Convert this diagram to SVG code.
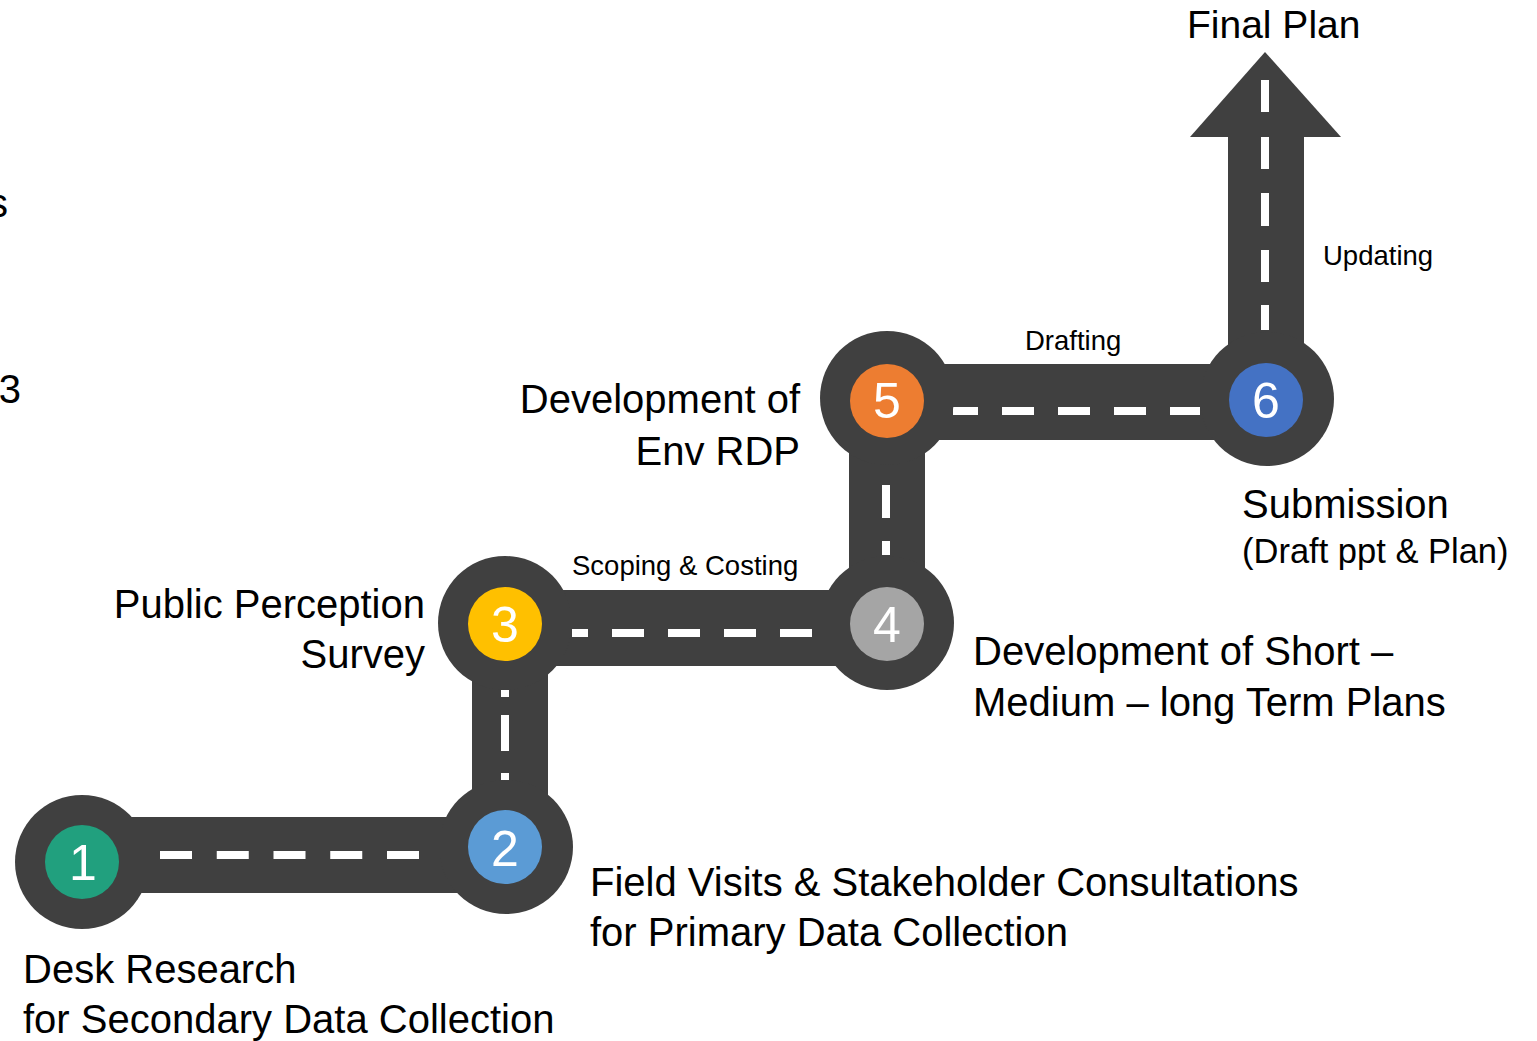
<svg xmlns="http://www.w3.org/2000/svg" width="1537" height="1041" viewBox="0 0 1537 1041">
<style>
.road{fill:#404040}
.dash{stroke:#ffffff;stroke-width:8;fill:none}
.ring{fill:#404040}
.num{font-family:"Liberation Sans",Arial,sans-serif;font-size:50px;fill:#ffffff;text-anchor:middle}
.lbl{font-family:"Liberation Sans",Arial,sans-serif;font-size:40px;fill:#000000}
.sm{font-family:"Liberation Sans",Arial,sans-serif;font-size:27.5px;fill:#000000}
.end{text-anchor:end}
</style>
<rect width="1537" height="1041" fill="#ffffff"/>
<text class="lbl end" x="8" y="217">s</text>
<text class="lbl end" x="21" y="403">3</text>
<g id="connectors">
  <rect class="road" x="82" y="817" width="424" height="76"/>
  <rect class="road" x="472" y="623" width="76" height="224"/>
  <rect class="road" x="505" y="590" width="382" height="76"/>
  <rect class="road" x="849" y="398" width="76" height="225"/>
  <rect class="road" x="887" y="364" width="380" height="76"/>
  <rect class="road" x="1228" y="136" width="76" height="263"/>
  <polygon class="road" points="1265,52 1341,137 1190,137"/>
  <line class="dash" x1="160" y1="855" x2="419" y2="855" stroke-dasharray="32 24.75"/>
  <line class="dash" x1="572" y1="633" x2="812" y2="633" stroke-dasharray="32 24" stroke-dashoffset="16"/>
  <line class="dash" x1="953" y1="411" x2="1200" y2="411" stroke-dasharray="32 24" stroke-dashoffset="7"/>
  <line class="dash" x1="505" y1="690" x2="505" y2="697"/>
  <line class="dash" x1="505" y1="715" x2="505" y2="751"/>
  <line class="dash" x1="505" y1="773" x2="505" y2="780"/>
  <line class="dash" x1="886" y1="485" x2="886" y2="518"/>
  <line class="dash" x1="886" y1="541" x2="886" y2="555"/>
  <line class="dash" x1="1265" y1="80" x2="1265" y2="112"/>
  <line class="dash" x1="1265" y1="137" x2="1265" y2="169"/>
  <line class="dash" x1="1265" y1="193" x2="1265" y2="226"/>
  <line class="dash" x1="1265" y1="250" x2="1265" y2="282"/>
  <line class="dash" x1="1265" y1="305" x2="1265" y2="330"/>
</g>
<g id="node1">
  <circle class="ring" cx="82" cy="862" r="67"/>
  <circle cx="82" cy="862" r="37" fill="#21A07E"/>
  <text class="num" x="83" y="880">1</text>
  <text class="lbl" x="23" y="983">Desk Research</text>
  <text class="lbl" x="23" y="1033">for Secondary Data Collection</text>
</g>
<g id="node2">
  <circle class="ring" cx="506" cy="847" r="67"/>
  <circle cx="505" cy="847" r="37" fill="#5B9BD5"/>
  <text class="num" x="505" y="866">2</text>
  <text class="lbl" x="590" y="896">Field Visits &amp; Stakeholder Consultations</text>
  <text class="lbl" x="590" y="946">for Primary Data Collection</text>
</g>
<g id="node3">
  <circle class="ring" cx="505" cy="623" r="67"/>
  <circle cx="505" cy="624" r="37" fill="#FFC000"/>
  <text class="num" x="505" y="642">3</text>
  <text class="lbl end" x="425" y="618">Public Perception</text>
  <text class="lbl end" x="425" y="668">Survey</text>
  <text class="sm" x="572" y="575">Scoping &amp; Costing</text>
</g>
<g id="node4">
  <circle class="ring" cx="887" cy="623" r="67"/>
  <circle cx="887" cy="624" r="37" fill="#A5A5A5"/>
  <text class="num" x="887" y="642">4</text>
  <text class="lbl" x="973" y="665">Development of Short –</text>
  <text class="lbl" x="973" y="716">Medium – long Term Plans</text>
</g>
<g id="node5">
  <circle class="ring" cx="887" cy="398" r="67"/>
  <circle cx="887" cy="401" r="37" fill="#ED7D31"/>
  <text class="num" x="887" y="418">5</text>
  <text class="lbl end" x="800" y="413">Development of</text>
  <text class="lbl end" x="800" y="465">Env RDP</text>
  <text class="sm" x="1025" y="350">Drafting</text>
</g>
<g id="node6">
  <circle class="ring" cx="1267" cy="399" r="67"/>
  <circle cx="1266" cy="400" r="37" fill="#4472C4"/>
  <text class="num" x="1266" y="418">6</text>
  <text class="lbl" x="1242" y="518">Submission</text>
  <text class="lbl" x="1242" y="563" style="font-size:34.5px">(Draft ppt &amp; Plan)</text>
  <text class="sm" x="1323" y="265">Updating</text>
</g>
<g id="final">
  <text class="lbl" x="1187" y="38" style="font-size:39px">Final Plan</text>
</g>
</svg>
